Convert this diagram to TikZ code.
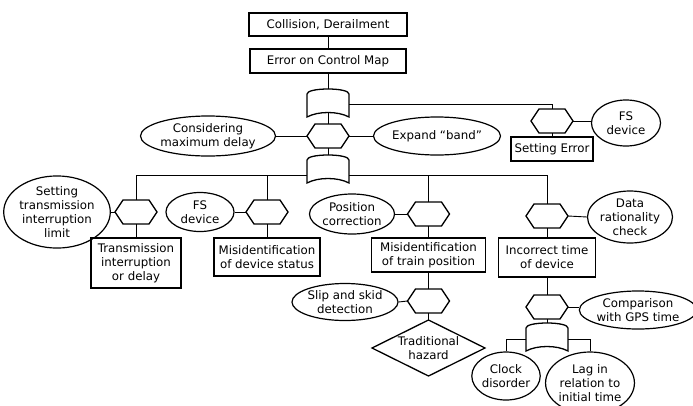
\documentclass[tikz,border=0pt]{standalone}
\usepackage{fontspec}
\setmainfont{DejaVu Sans}
\usetikzlibrary{shapes.geometric,calc}

\newcommand{\hexg}[3]{%
  \node[hexn] (#1) at (#2,#3) {};
  \draw[shp] (#2-21,#3) -- (#2-13,#3-12) -- (#2+13,#3-12) -- (#2+21,#3) -- (#2+13,#3+12) -- (#2-13,#3+12) -- cycle;}

\newcommand{\orgate}[3]{%
  \coordinate (#1) at (#2,#3);
  \coordinate (#1-t) at (#2,#3-16);
  \coordinate (#1-b) at (#2,#3+7.5);
  \coordinate (#1-l) at (#2-21,#3);
  \coordinate (#1-r) at (#2+21,#3);
  \draw[shp] (#2-21,#3+12) -- (#2-21,#3-11) .. controls (#2-21,#3-14) and (#2-12,#3-16) .. (#2,#3-16)
     .. controls (#2+12,#3-16) and (#2+21,#3-14) .. (#2+21,#3-11) -- (#2+21,#3+12)
     .. controls (#2+10,#3+6) and (#2-10,#3+6) .. cycle;}

\begin{document}
\begin{tikzpicture}[x=1pt,y=-1pt,
  every node/.style={font=\fontsize{11.8}{14}\selectfont, align=center, inner sep=0pt},
  box/.style={draw, line width=1.5pt, rectangle},
  oval/.style={draw, line width=1.2pt, ellipse},
  conn/.style={line width=0.9pt},
  shp/.style={line width=1.3pt, line join=miter},
  hexn/.style={minimum width=42pt, minimum height=24pt, rectangle}
]
\useasboundingbox (0,0) rectangle (693,405);

% top
\node[box, minimum width=158pt, minimum height=23pt] (top1) at (328,24.5) {Collision, Derailment};
\node[box, minimum width=156pt, minimum height=24pt] (top2) at (328,61) {Error on Control Map};

\orgate{or1}{328}{105}
\hexg{inh1}{328}{136}
\orgate{or2}{328}{171}
\hexg{inhSE}{552}{121}

\node[oval, minimum width=110pt, minimum height=40pt] (edelay) at (208,136) {Considering\\maximum delay};
\node[oval, minimum width=110pt, minimum height=38pt] (eband) at (437,136) {Expand “band”};
\node[oval, minimum width=69pt, minimum height=46pt] (efs1) at (626,123) {FS\\device};
\node[box, minimum width=82pt, minimum height=24pt] (seterr) at (552,149) {Setting Error};

% second level
\hexg{inhA}{136}{212}
\hexg{inhB}{267}{212}
\hexg{inhC}{428.5}{214}
\hexg{inhD}{547}{216}

\node[oval, minimum width=84pt, minimum height=62pt] (elimit) at (57,212) {Setting\\transmission\\interruption\\limit};
\node[oval, minimum width=68pt, minimum height=39pt] (efs2) at (200,212) {FS\\device};
\node[oval, minimum width=85pt, minimum height=40pt] (epos) at (352,214) {Position\\correction};
\node[oval, minimum width=85pt, minimum height=51pt] (edata) at (630,217) {Data\\rationality\\check};

\node[box, minimum width=90pt, minimum height=50pt] (trans) at (136,263) {Transmission\\interruption\\or delay};
\node[box, minimum width=106pt, minimum height=38pt] (misdev) at (267,257) {Misidentification\\of device status};
\node[box, minimum width=114pt, minimum height=34pt] (mistrain) at (428.5,255) {Misidentification\\of train position};
\node[box, minimum width=97pt, minimum height=39pt] (inctime) at (547,257.5) {Incorrect time\\of device};

% third level
\hexg{inhE}{428.5}{301}
\node[oval, minimum width=100pt, minimum height=37pt] (eslip) at (345,302) {Slip and skid\\detection};
\node (haz) at (428.5,348) {Traditional\\hazard};
\coordinate (hazN) at (428.5,320);
\draw[shp] (372,348) -- (hazN) -- (485,348) -- (428.5,376) -- cycle;

\hexg{inhF}{547}{307}
\node[oval, minimum width=100pt, minimum height=38pt] (egps) at (638,310) {Comparison\\with GPS time};
\orgate{or3}{547}{339}
\node[oval, minimum width=61pt, minimum height=48pt] (eclock) at (506,376) {Clock\\disorder};
\node[oval, minimum width=87pt, minimum height=62pt] (elag) at (590,383) {Lag in\\relation to\\initial time};

% connectors
\draw[conn] (top1.south) -- (top2.north);
\draw[conn] (top2.south) -- (or1-t);
\draw[conn] ([yshift=1pt]or1-r) -| (inhSE.north);
\draw[conn] (or1-b) -- (inh1.north);
\draw[conn] (inhSE.east) -- (inhSE.east -| efs1.west);
\draw[conn] (inhSE.south) -- (seterr.north);
\draw[conn] (edelay.east) -- (inh1.west);
\draw[conn] (inh1.east) -- (eband.west);
\draw[conn] (inh1.south) -- (or2-t);

\coordinate (busy) at (0,175);
\draw[conn] (or2-l |- busy) -| (inhA.north);
\draw[conn] (inhB.north) -- (inhB.north |- busy);
\draw[conn] (or2-r |- busy) -| (inhD.north);
\draw[conn] (inhC.north) -- (inhC.north |- busy);

\draw[conn] (elimit.east) -- (inhA.west);
\draw[conn] (inhA.south) -- (trans.north);
\draw[conn] (efs2.east) -- (inhB.west);
\draw[conn] (inhB.south) -- (misdev.north);
\draw[conn] (epos.east) -- (inhC.west);
\draw[conn] (inhC.south) -- (mistrain.north);
\draw[conn] (inhD.east) -- (edata.west);
\draw[conn] (inhD.south) -- (inctime.north);

\draw[conn] (mistrain.south) -- (inhE.north);
\draw[conn] (eslip.east) -- (inhE.west);
\draw[conn] (inhE.south) -- (hazN);

\draw[conn] (inctime.south) -- (inhF.north);
\draw[conn] (inhF.east) -- (inhF.east -| egps.west);
\draw[conn] (inhF.south) -- (or3-t);
\draw[conn] (or3-l) -| (eclock.north);
\draw[conn] (or3-r) -| (elag.north);
\end{tikzpicture}
\end{document}
